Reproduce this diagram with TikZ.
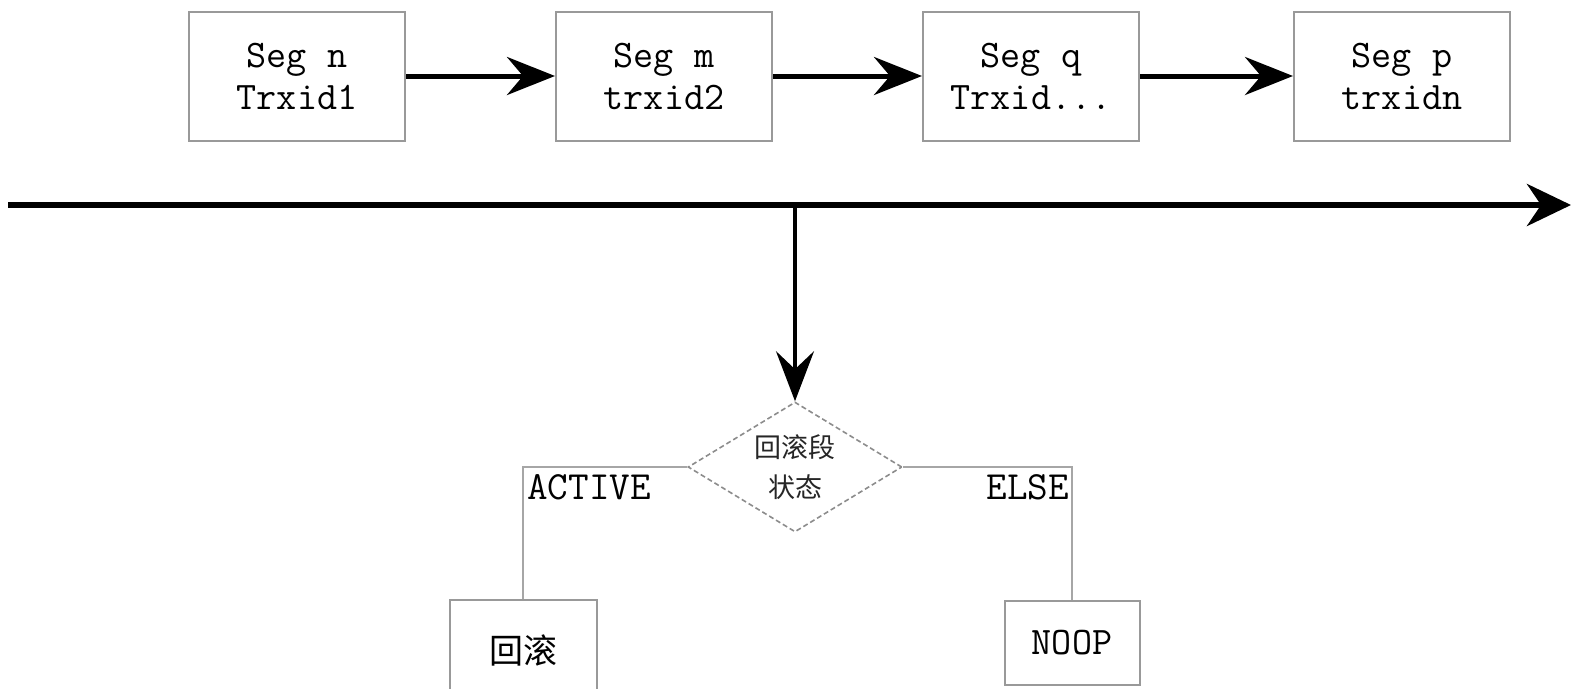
\documentclass[tikz,border=0pt]{standalone}
\usepackage{fontspec}
\newfontfamily\cjk{Noto Sans CJK SC}
\usetikzlibrary{arrows.meta,shapes.geometric}
\begin{document}
\begin{tikzpicture}[x=1pt,y=-1pt,
  segbox/.style={draw=black!40, line width=2pt, minimum width=216pt, minimum height=129pt,
    inner sep=0pt, align=center, font=\ttfamily\fontsize{39}{42}\selectfont, text=black},
  resbox/.style={draw=black!40, line width=2pt, inner sep=0pt, text=black},
  decision/.style={diamond, aspect=1.65, draw=black!45, dashed, dash pattern=on 5pt off 3pt, line width=1.6pt,
    minimum width=214pt, minimum height=130pt, inner sep=0pt, align=center,
    font=\cjk\fontsize{27}{40}\selectfont, text=black!85},
  segarrow/.style={line width=5pt, -{Stealth[length=48pt,width=38pt,inset=16pt]}},
  timearrow/.style={line width=6pt, -{Stealth[length=44pt,width=42pt,inset=14pt]}},
  downarrow/.style={line width=3.5pt, -{Stealth[length=50pt,width=38pt,inset=18pt]}},
  branch/.style={draw=black!35, line width=2pt},
  lbl/.style={font=\ttfamily\fontsize{40}{42}\selectfont, text=black, inner sep=0pt}
]
\useasboundingbox (0,0) rectangle (1573,688);

\node[segbox] (s1) at (297,76) {Seg n\\Trxid1};
\node[segbox] (s2) at (664,76) {Seg m\\trxid2};
\node[segbox] (s3) at (1031,76) {Seg q\\Trxid...};
\node[segbox] (s4) at (1402,76) {Seg p\\trxidn};

\draw[segarrow] (s1.east) -- (s2.west);
\draw[segarrow] (s2.east) -- (s3.west);
\draw[segarrow] (s3.east) -- (s4.west);

\coordinate (t0) at (8,205);
\coordinate (t1) at (1571,205);
\coordinate (tm) at (795,205);
\draw[timearrow] (t0) -- (t1);

\node[decision] (d) at (795,467) {回滚段\\状态};
\draw[downarrow] (tm) -- (d.north);

\node[resbox, minimum width=147pt, minimum height=100pt, font=\cjk\fontsize{34}{40}\selectfont] (r1) at (523,650) {\raisebox{-8pt}{回滚}};
\node[resbox, minimum width=135pt, minimum height=84pt, font=\ttfamily\fontsize{39}{42}\selectfont] (r2) at (1072,643) {NOOP};

\coordinate (c1) at (r1.north |- d.west);
\coordinate (c2) at (r2.north |- d.east);
\draw[branch] (d.west) -- (c1) -- (r1.north);
\draw[branch] (d.east) -- (c2) -- (r2.north);

\node[lbl, anchor=north west] (la) at (527,474) {ACTIVE};
\node[lbl, anchor=north east] (le) at (1069,474) {ELSE};
\end{tikzpicture}
\end{document}
